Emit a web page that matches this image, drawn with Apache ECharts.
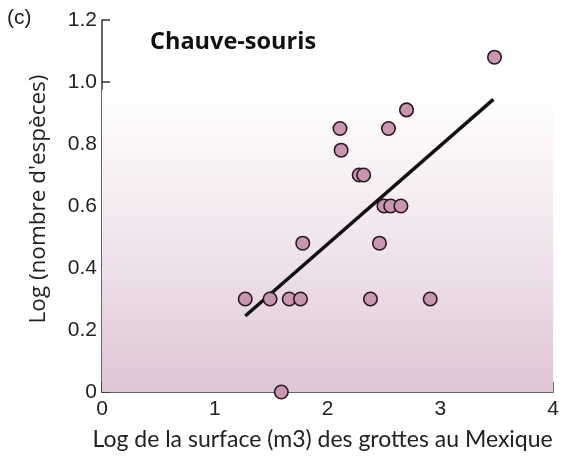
<!DOCTYPE html>
<html>
<head>
<meta charset="utf-8">
<script src="https://cdn.jsdelivr.net/npm/echarts@6/dist/echarts.min.js"></script>
<style>
html,body{margin:0;padding:0;background:#fff;}
#c{width:562px;height:459px;}
</style>
</head>
<body>
<div id="c"></div>
<script>
var surfaceLog = [1.27, 1.49, 1.66, 1.76, 1.78, 1.59, 2.11, 2.12, 2.28, 2.32, 2.50, 2.56, 2.65, 2.46, 2.38, 2.54, 2.70, 2.91, 3.48];
var especesLog = [0.30, 0.30, 0.30, 0.30, 0.48, 0.00, 0.85, 0.78, 0.70, 0.70, 0.60, 0.60, 0.60, 0.48, 0.30, 0.85, 0.91, 0.30, 1.08];
var fitX = [1.27, 3.47];
var fitY = [0.245, 0.944];
var xTicks = [0, 1, 2, 3, 4];
var yTicks = ['0', '0.2', '0.4', '0.6', '0.8', '1.0', '1.2'];
var bgRange = [0, 0.975];

var chart = echarts.init(document.getElementById('c'), null, {renderer: 'canvas'});
var pts = surfaceLog.map(function (x, i) { return [x, especesLog[i]]; });
var fit = fitX.map(function (x, i) { return [x, fitY[i]]; });

chart.setOption({
  animation: false,
  backgroundColor: '#fff',
  grid: {left: 102, right: 5, top: 20, bottom: 67},
  title: {
    text: 'Chauve-souris', left: 145, top: 25,
    textStyle: {fontFamily: 'Open Sans', fontWeight: 'bold', fontSize: 23.5, color: '#111'}
  },
  graphic: [{
    type: 'text', left: 7, top: 8,
    style: {text: '(c)', fontFamily: 'Liberation Sans', fontSize: 21, fill: '#222'}
  }],
  xAxis: {
    type: 'value', min: 0, max: 4, interval: 1,
    name: 'Log de la surface (m3) des grottes au Mexique',
    nameLocation: 'middle', nameGap: 36,
    nameTextStyle: {fontFamily: 'Lato', fontSize: 23, color: '#222', padding: [0, 10, 0, 0]},
    axisLine: {show: true, lineStyle: {color: '#333', width: 1.5}},
    axisTick: {show: true, inside: true, length: 10, lineStyle: {color: '#333', width: 1.5}},
    axisLabel: {
      fontFamily: 'Liberation Sans', fontSize: 21, color: '#222', margin: 7,
      formatter: function (v) { return xTicks.indexOf(v) >= 0 ? String(v) : ''; }
    },
    splitLine: {show: false}
  },
  yAxis: {
    type: 'value', min: 0, max: 1.2, interval: 0.2,
    name: "Log (nombre d'espèces)",
    nameLocation: 'middle', nameGap: 52, nameRotate: 90,
    nameTextStyle: {fontFamily: 'Open Sans', fontSize: 22.5, color: '#222', padding: [0, 0, 0, 14]},
    axisLine: {show: true, lineStyle: {color: '#333', width: 1.5}},
    axisTick: {show: true, inside: true, length: 8, lineStyle: {color: '#333', width: 1.5}},
    axisLabel: {
      fontFamily: 'Liberation Sans', fontSize: 21, color: '#222', margin: 5,
      formatter: function (v) { return yTicks[Math.round(v / 0.2)]; }
    },
    splitLine: {show: false}
  },
  series: [
    {
      type: 'line', data: fit, symbol: 'none', z: 3,
      lineStyle: {color: '#111', width: 3.5},
      markArea: {
        silent: true,
        itemStyle: {
          color: new echarts.graphic.LinearGradient(0, 0, 0, 1, [
            {offset: 0, color: '#ffffff'},
            {offset: 0.45, color: '#f3e8ef'},
            {offset: 1, color: '#dfc6d6'}
          ])
        },
        data: [[{yAxis: bgRange[0], xAxis: 0}, {yAxis: bgRange[1], xAxis: 4}]]
      }
    },
    {
      type: 'scatter', data: pts, symbolSize: 13.5, z: 5, clip: false,
      itemStyle: {color: '#c896b0', borderColor: '#2a1820', borderWidth: 1.6, opacity: 1}
    }
  ]
});
</script>
</body>
</html>
